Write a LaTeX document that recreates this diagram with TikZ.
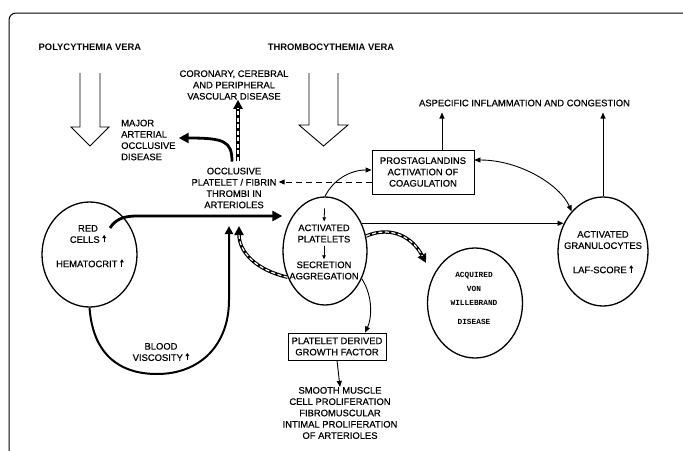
\documentclass[tikz,border=0pt]{standalone}
\usepackage{fontspec}
\setmainfont{Liberation Sans}
\newfontfamily\medfont{Liberation Sans}[FakeBold=0.5]
\newfontfamily\vwfont{Liberation Mono}
\usetikzlibrary{arrows.meta,shapes.geometric,calc}

% small upward arrow used after the labels
\newcommand{\uparr}{\tikz[baseline=-0.5pt]\draw[line width=0.9pt,-{Triangle[length=3.2pt,width=3.8pt]}] (0pt,0pt) -- (0pt,7.5pt);}

\tikzset{
  cell/.style={ellipse, draw, line width=1.3pt, inner sep=0pt},
  lbl/.style={align=center, inner sep=0pt, font=\medfont\fontsize{9.4}{11.3}\selectfont},
  toptext/.style={lbl, font=\fontsize{9.4}{11.3}\selectfont\bfseries},
  factorbox/.style={draw, line width=0.9pt, align=center, inner sep=2pt, font=\medfont\fontsize{9.4}{11.3}\selectfont},
  flow/.style={line width=0.9pt, -{Triangle[length=6pt,width=5pt]}},
  tiny/.style={line width=0.8pt, -{Triangle[length=4pt,width=3.5pt]}},
  heavy/.style={line width=2.8pt, -{Triangle[length=10pt,width=10pt]}},
  loopline/.style={line width=2pt, -{Triangle[length=8pt,width=8pt]}},
  stripe/.style={line width=3.4pt, -{Triangle[length=9pt,width=9pt]},
    postaction={draw=white, line width=1.2pt, dash pattern=on 4pt off 2.5pt, shorten >=8pt, -}},
  hollow/.style={draw, line width=0.9pt, line join=miter}
}

\begin{document}
\begin{tikzpicture}[x=1pt, y=-1pt]
\useasboundingbox (0,0) rectangle (683,450);

% Frame
\draw[line width=1pt, rounded corners=7pt] (9,470) -- (9,13) -- (695,13);

% Titles and hollow arrows
\node[toptext] (polyc) at (90,47) {POLYCYTHEMIA VERA};
\node[toptext] (thromb) at (331,47) {THROMBOCYTHEMIA VERA};
\draw[hollow] (80,73) -- (80,127) -- (71,127) -- (90,146) -- (109,127) -- (100,127) -- (100,73);
\draw[hollow] (309,73) -- (309,125) -- (299,125) -- (323.5,146) -- (348,125) -- (338,125) -- (338,73);

% Cells
\node[cell, minimum width=95pt, minimum height=105pt] (redcells) at (89.5,254.5) {};
\node[cell, minimum width=84pt, minimum height=108pt] (platelets) at (325,251) {};
\node[cell, minimum width=95pt, minimum height=110pt] (willebrand) at (475,303) {};
\node[cell, minimum width=90pt, minimum height=109pt] (granulo) at (603,251.5) {};

% Texts
\node[lbl] (coron) at (234,85) {CORONARY, CEREBRAL\\AND PERIPHERAL\\VASCULAR DISEASE};
\node[lbl, align=left, anchor=west] (major) at (121,140) {MAJOR\\ARTERIAL\\OCCLUSIVE\\DISEASE};
\node[lbl] (occl) at (234,188) {OCCLUSIVE\\PLATELET / FIBRIN\\THROMBI IN\\ARTERIOLES};
\node[lbl] (redtxt) at (88,234) {RED\\CELLS \uparr};
\node[lbl] (hemat) at (90,263) {HEMATOCRIT \uparr};
\node[lbl] (visc) at (161,352) {BLOOD\\VISCOSITY \uparr};
\node[lbl] (pltA) at (324,233.5) {ACTIVATED\\PLATELETS};
\node[lbl] (pltB) at (324,270.5) {SECRETION\\AGGREGATION};
\node[factorbox, minimum width=102pt, minimum height=44pt] (prost) at (423,172) {PROSTAGLANDINS\\ACTIVATION OF\\COAGULATION};
\node[lbl] (aspec) at (524.5,103) {ASPECIFIC INFLAMMATION AND CONGESTION};
\node[lbl] (granA) at (603,240) {ACTIVATED\\GRANULOCYTES};
\node[lbl] (laf) at (603,269) {LAF-SCORE \uparr};
\node[align=center, inner sep=0pt, font=\vwfont\bfseries\fontsize{7.8}{9}\selectfont] (vwtxt) at (474,298.5) {ACQUIRED\\[5pt]VON\\[5pt]WILLEBRAND\\[10pt]DISEASE};
\node[factorbox, minimum width=98pt, minimum height=27pt] (pdgf) at (337,346.5) {PLATELET DERIVED\\GROWTH FACTOR};
\node[lbl] (smooth) at (340,413) {SMOOTH MUSCLE\\CELL PROLIFERATION\\FIBROMUSCULAR\\INTIMAL PROLIFERATION\\OF ARTERIOLES};

% Coordinates for the free ends
\coordinate (rcstart) at (110,228);
\coordinate (rcbend) at (136,216);
\coordinate (visctip) at (229,226);
\coordinate (stripetip) at (239,226);
\coordinate (vwtip) at (426,263);
\coordinate (dstart) at ($(prost.west)+(0,10)$);
\coordinate (pup) at ($(prost.north)+(19,0)$);

% Red cells to the thrombi
\draw[heavy] (rcstart) .. controls (115,220) and (123,216) .. (rcbend) -- (rcbend -| platelets.west);
\draw[loopline] (redcells.south) .. controls (93,355) and (120,374) .. (157,374)
  .. controls (200,374) and (229,345) .. (229,300) -- (visctip);
\draw[stripe] (platelets.215) .. controls (256,270) and (239,252) .. (stripetip);

% Thrombi outcomes
\draw[stripe] ([xshift=4pt,yshift=7pt]occl.north) -- ([xshift=4pt]occl.north |- coron.south);
\draw[heavy] ([xshift=-2pt,yshift=6pt]occl.north) .. controls (232,141) and (224,138) .. ([xshift=3pt,yshift=2pt]major.east);

% Platelet activation
\draw[tiny, shorten <=12pt, shorten >=3pt] (platelets.north) -- (pltA.north);
\draw[tiny, shorten <=3pt, shorten >=2pt] (pltA.south) -- (pltB.north);
\draw[flow] (platelets.north) .. controls (333,180) and (350,170) .. ($(prost.west)+(0,-2)$);
\draw[flow, dash pattern=on 6pt off 4pt] (dstart) -- ($(dstart -| occl.east)+(2,0)$);
\draw[flow] (platelets.37) -- (platelets.37 -| granulo.145);
\draw[stripe] (platelets.20) .. controls (392,225) and (413,238) .. (vwtip);
\draw[flow] (platelets.-37) .. controls (373,296) and (372,318) .. ($(pdgf.north)+(28,0)$);
\draw[flow] (pdgf.south) -- (smooth.north);

% Inflammation
\draw[flow, shorten >=6pt] (pup) -- (pup |- aspec.south);
\draw[flow, shorten >=6pt] (granulo.north) -- (granulo.north |- aspec.south);
\draw[flow, {Triangle[length=6pt,width=5pt]}-{Triangle[length=6pt,width=5pt]}] ($(prost.east)+(0,-12)$) .. controls (520,160) and (560,185) .. (granulo.128);

\end{tikzpicture}
\end{document}
